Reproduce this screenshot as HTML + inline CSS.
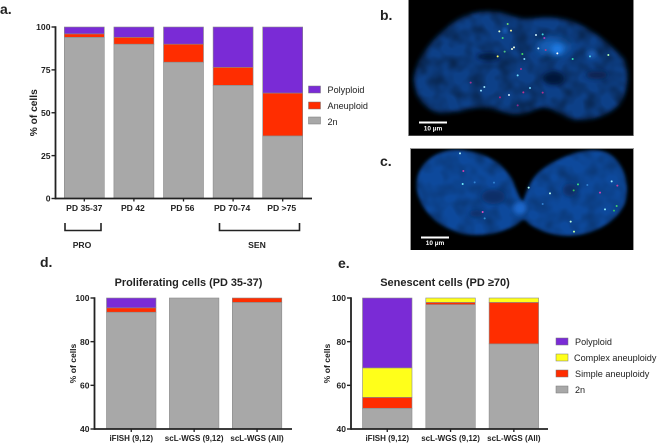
<!DOCTYPE html>
<html>
<head>
<meta charset="utf-8">
<style>
html,body{margin:0;padding:0;background:#fff;width:658px;height:443px;overflow:hidden}
svg{display:block;font-family:"Liberation Sans",sans-serif;filter:blur(.3px)}
text{fill:#222}
.b{font-weight:bold}
</style>
</head>
<body>
<svg id="fig" width="658" height="443" viewBox="0 0 658 443" xmlns="http://www.w3.org/2000/svg">
<defs>
<filter id="blurA" x="-20%" y="-20%" width="140%" height="140%"><feGaussianBlur stdDeviation="5"/></filter>
<filter id="blurB" x="-50%" y="-50%" width="200%" height="200%"><feGaussianBlur stdDeviation="7"/></filter>
<filter id="blurS" x="-50%" y="-50%" width="200%" height="200%"><feGaussianBlur stdDeviation="12"/></filter>
<filter id="mottle" x="0" y="0" width="100%" height="100%">
<feTurbulence type="fractalNoise" baseFrequency="0.07" numOctaves="2" seed="7"/>
<feGaussianBlur stdDeviation="1.2"/>
<feColorMatrix type="matrix" values="0 0 0 0 0  0 0 0 0 0  0 0 0 0 0  2 0 0 0 -0.75"/>
</filter>
<filter id="dotBlur" x="-100%" y="-100%" width="300%" height="300%"><feGaussianBlur stdDeviation="0.5"/></filter>
<clipPath id="clipB"><rect x="408" y="0" width="226" height="136"/></clipPath>
<clipPath id="clipC"><rect x="410" y="148" width="224" height="102"/></clipPath>
</defs>

<text class="b" x="0" y="14" font-size="14">a.</text>
<text class="b" x="380" y="20" font-size="14">b.</text>
<text class="b" x="380" y="166" font-size="14">c.</text>
<text class="b" x="40" y="267" font-size="14">d.</text>
<text class="b" x="338" y="268" font-size="14">e.</text>

<g id="chartA"></g>
<g id="chartD"></g>
<g id="chartE"></g>

<g fill="none" stroke="#222" stroke-width="1.6">
<path d="M65 223V230.5H101V223"/>
</g>
<text class="b" x="82" y="248" font-size="8.6" text-anchor="middle">PRO</text>
<g fill="none" stroke="#222" stroke-width="1.6">
<path d="M219.5 223V230.5H299.5V223"/>
</g>
<text class="b" x="257" y="248" font-size="8.6" text-anchor="middle">SEN</text>

<g font-size="9.1">
<rect x="308.5" y="86" width="12" height="7" fill="#7a2bd6" stroke="#777" stroke-width=".5"/>
<text x="327.5" y="93">Polyploid</text>
<rect x="308.5" y="102" width="12" height="7" fill="#ff2d00" stroke="#777" stroke-width=".5"/>
<text x="327.5" y="109">Aneuploid</text>
<rect x="308.5" y="117" width="12" height="7" fill="#a8a8a8" stroke="#777" stroke-width=".5"/>
<text x="327.5" y="125">2n</text>
</g>

<g font-size="9.1">
<rect x="556" y="338" width="12" height="7" fill="#7a2bd6" stroke="#777" stroke-width=".5"/>
<text x="575" y="345">Polyploid</text>
<rect x="556" y="354" width="12" height="7" fill="#ffff1a" stroke="#777" stroke-width=".5"/>
<text x="574" y="361">Complex aneuploidy</text>
<rect x="556" y="370" width="12" height="7" fill="#ff2d00" stroke="#777" stroke-width=".5"/>
<text x="575" y="377">Simple aneuploidy</text>
<rect x="556" y="386" width="12" height="7" fill="#a8a8a8" stroke="#777" stroke-width=".5"/>
<text x="575" y="393">2n</text>
</g>

<!-- micrograph b -->
<g clip-path="url(#clipB)">
<rect x="408" y="0" width="226" height="136" fill="#000"/>
<g transform="translate(340,0) scale(.33333)">
<path filter="url(#blurB)" fill="#0f4088" d="M222 240C225 190 262 130 320 85C360 45 420 25 490 40C520 50 550 60 580 55C620 50 680 50 730 80C770 100 810 135 850 175C870 215 865 270 840 310C810 345 750 365 700 358C670 352 650 325 610 322C580 325 560 345 520 342C480 335 450 320 410 322C370 330 320 345 285 335C245 315 225 285 222 240Z"/>
</g>
<rect x="408" y="0" width="226" height="136" fill="#000" opacity=".45" filter="url(#mottle)" style="mix-blend-mode:multiply"/>
<g transform="translate(340,0) scale(.33333)">
<ellipse cx="445" cy="170" rx="35" ry="10" fill="#04173a" filter="url(#blurB)"/>
<ellipse cx="640" cy="235" rx="32" ry="20" fill="#04173a" filter="url(#blurB)"/>
<ellipse cx="770" cy="225" rx="32" ry="12" fill="#082450" filter="url(#blurB)"/>
<ellipse cx="640" cy="140" rx="50" ry="24" fill="#1660b8" filter="url(#blurS)"/>
<ellipse cx="652" cy="148" rx="18" ry="16" fill="#1c78e0" filter="url(#blurB)"/>
<ellipse cx="755" cy="162" rx="14" ry="12" fill="#1a5fb8" filter="url(#blurB)"/>
<ellipse cx="495" cy="92" rx="7" ry="7" fill="#1a66c8" filter="url(#blurA)"/>
</g>
<g id="dotsB" transform="translate(340,0) scale(.33333)" filter="url(#dotBlur)"></g>
<rect x="419" y="121.5" width="28" height="2" fill="#fff"/>
<text x="433" y="130.5" font-size="6.5" font-weight="bold" text-anchor="middle" style="fill:#fff">10 µm</text>
<rect x="408.5" y="-1" width="225" height="137" fill="none" stroke="#888" stroke-width="1"/>
</g>

<!-- micrograph c -->
<g clip-path="url(#clipC)">
<rect x="410" y="148" width="224" height="102" fill="#000"/>
<g transform="translate(340,125) scale(.33333)">
<path filter="url(#blurA)" fill="#114a9c" d="M230 170C235 110 295 70 360 75C430 80 490 110 520 170C530 200 540 220 548 232C555 215 560 190 580 160C610 120 660 100 700 85C750 70 800 70 830 105C860 140 868 190 855 235C830 290 770 325 700 332C650 335 600 320 565 295C555 280 545 285 535 295C490 325 430 335 380 328C300 315 225 250 230 170Z"/>
</g>
<rect x="410" y="148" width="224" height="102" fill="#000" opacity=".3" filter="url(#mottle)" style="mix-blend-mode:multiply"/>
<g transform="translate(340,125) scale(.33333)">
<ellipse cx="460" cy="215" rx="35" ry="22" fill="#0a2f68" filter="url(#blurB)"/>
<ellipse cx="410" cy="265" rx="22" ry="10" fill="#0a2f68" filter="url(#blurB)"/>
<ellipse cx="690" cy="195" rx="22" ry="20" fill="#0a2f68" filter="url(#blurB)"/>
<ellipse cx="540" cy="250" rx="20" ry="20" fill="#1a68cc" filter="url(#blurB)"/>
</g>
<g id="dotsC" transform="translate(340,125) scale(.33333)" filter="url(#dotBlur)"></g>
<rect x="421" y="236.5" width="28" height="2" fill="#fff"/>
<text x="435" y="245" font-size="6.5" font-weight="bold" text-anchor="middle" style="fill:#fff">10 µm</text>
<rect x="410.5" y="148.5" width="223" height="102" fill="none" stroke="#999" stroke-width="1"/>
</g>

<text class="b" x="188.5" y="286" font-size="10.9" text-anchor="middle">Proliferating cells (PD 35-37)</text>
<text class="b" x="445" y="286" font-size="11" text-anchor="middle">Senescent cells (PD ≥70)</text>
</svg>

<script>
var COLORS = {n2:'#a8a8a8', simple:'#ff2d00', complex:'#ffff1a', poly:'#7a2bd6'};

var categoriesA = ['PD 35-37','PD 42','PD 56','PD 70-74','PD >75'];
var twoNA = [94, 90, 79.5, 66, 36.5];
var aneuploidA = [2, 4, 10.5, 10.5, 25];
var polyploidA = [4, 6, 10, 23.5, 38.5];
var ticksA = [0, 25, 50, 75, 100];

var categoriesD = ['iFISH (9,12)','scL-WGS (9,12)','scL-WGS (All)'];
var twoND = [93.5, 100, 98];
var simpleD = [2, 0, 2];
var polyploidD = [4.5, 0, 0];
var ticksD = [40, 60, 80, 100];

var categoriesE = ['iFISH (9,12)','scL-WGS (9,12)','scL-WGS (All)'];
var twoNE = [49.5, 97, 79];
var simpleE = [5, 1, 19];
var complexE = [13.5, 2, 2];
var polyploidE = [32, 0, 0];
var ticksE = [40, 60, 80, 100];

var NS = 'http://www.w3.org/2000/svg';
function mk(parent, tag, attrs, txt) {
  var el = document.createElementNS(NS, tag);
  for (var k in attrs) el.setAttribute(k, attrs[k]);
  if (txt !== undefined) el.textContent = txt;
  parent.appendChild(el);
  return el;
}

function stacked(cfg) {
  var g = document.getElementById(cfg.id);
  var min = cfg.ticks[0], max = cfg.ticks[cfg.ticks.length - 1];
  function y(v) { return cfg.y0 + (Math.max(v, min) - min) / (max - min) * (cfg.y1 - cfg.y0); }
  function x(i) { return cfg.xStart + i * cfg.step; }

  cfg.cats.forEach(function (cat, i) {
    var acc = 0;
    cfg.series.forEach(function (s) {
      var v = s.values[i];
      if (v <= 0) return;
      var top = y(acc + v), bot = y(acc);
      var r = mk(g, 'rect', {x: x(i), y: top, width: cfg.barW, height: Math.max(bot - top, 0), fill: s.color, stroke: '#8a8a8a', 'stroke-width': 0.6});
      
      
      acc += v;
    });
    var cx = x(i) + cfg.barW / 2;
    var tk = mk(g, 'line', {x1: cx, x2: cx, y1: cfg.y0, y2: cfg.y0 + 3, stroke: '#222', 'stroke-width': 1.3});
    
    
    var lbl = mk(g, 'text', {x: cx + cfg.labelDx[i], y: cfg.y0 + cfg.labelDy, 'font-size': cfg.xFont, 'font-weight': 'bold', 'text-anchor': 'middle'}, cat);
    
    
  });

  cfg.ticks.forEach(function (t) {
    var yy = y(t);
    var tk = mk(g, 'line', {x1: cfg.axisX - 4, x2: cfg.axisX, y1: yy, y2: yy, stroke: '#222', 'stroke-width': 1.4});
    
    
    var lbl = mk(g, 'text', {x: cfg.axisX - 5, y: yy + 3.2, 'font-size': cfg.yFont, 'font-weight': 'bold', 'text-anchor': 'end'}, t);
    
    
  });

  var ya = mk(g, 'line', {x1: cfg.axisX, x2: cfg.axisX, y1: cfg.y1 - 0.7, y2: cfg.y0 + 0.9, stroke: '#222', 'stroke-width': 1.8});
  
  
  var xa = mk(g, 'line', {x1: cfg.axisX, x2: cfg.axisEnd, y1: cfg.y0, y2: cfg.y0, stroke: '#222', 'stroke-width': 1.8});
  
  

  var cy = (cfg.y0 + cfg.y1) / 2;
  var yt = mk(g, 'text', {x: cfg.yTitleX, y: cy, 'font-size': cfg.yTitleFont, 'font-weight': 'bold', 'text-anchor': 'middle', transform: 'rotate(-90 ' + cfg.yTitleX + ' ' + cy + ')'}, '% of cells');
  
  
}

stacked({id: 'chartA', cats: categoriesA, ticks: ticksA,
  series: [{name: '2n', values: twoNA, color: COLORS.n2},
           {name: 'aneuploid', values: aneuploidA, color: COLORS.simple},
           {name: 'polyploid', values: polyploidA, color: COLORS.poly}],
  y0: 198.5, y1: 27, xStart: 64.3, step: 49.6, barW: 40, axisX: 55.5, axisEnd: 312,
  labelDy: 12.5, labelDx: [0, -1, -1, -1, -1], xFont: 8.6, yFont: 8.6, yTitleX: 37, yTitleFont: 10.2});

stacked({id: 'chartD', cats: categoriesD, ticks: ticksD,
  series: [{name: '2n', values: twoND, color: COLORS.n2},
           {name: 'simple-aneuploidy', values: simpleD, color: COLORS.simple},
           {name: 'polyploid', values: polyploidD, color: COLORS.poly}],
  y0: 429, y1: 298, xStart: 106.5, step: 62.9, barW: 49.5, axisX: 94.5, axisEnd: 292,
  labelDy: 12, labelDx: [0, 0, 0], xFont: 8, yFont: 8.5, yTitleX: 76, yTitleFont: 8.6});

stacked({id: 'chartE', cats: categoriesE, ticks: ticksE,
  series: [{name: '2n', values: twoNE, color: COLORS.n2},
           {name: 'simple-aneuploidy', values: simpleE, color: COLORS.simple},
           {name: 'complex-aneuploidy', values: complexE, color: COLORS.complex},
           {name: 'polyploid', values: polyploidE, color: COLORS.poly}],
  y0: 429, y1: 298, xStart: 362.5, step: 63.3, barW: 49.5, axisX: 351, axisEnd: 548,
  labelDy: 12, labelDx: [0, 0, 0], xFont: 8, yFont: 8.5, yTitleX: 330, yTitleFont: 8.6});

var spotsB = [[503,72,'#6fdc6f'],[478,94,'#e0ffd0'],[513,92,'#eeee99'],[488,114,'#3fdc80'],[588,105,'#d0f4ff'],[608,103,'#40d8e0'],[613,114,'#b040c0'],[595,145,'#c0f0ff'],[652,160,'#ffffff'],[617,150,'#a04090'],[698,177,'#30e0b0'],[750,169,'#50d0f0'],[805,165,'#b0ffb0'],[473,169,'#ffff60'],[494,155,'#50c080'],[516,147,'#f0ffe0'],[522,142,'#f0ffe0'],[547,162,'#40e060'],[553,177,'#80d8ff'],[543,207,'#b03090'],[533,226,'#70e0ff'],[392,248,'#a03090'],[433,261,'#a0e8ff'],[423,272,'#90e0ff'],[480,292,'#b02080'],[507,285,'#d0f0ff'],[550,277,'#c03090'],[570,264,'#70d8ff'],[608,278,'#b03090'],[533,316,'#8a2a90']];
var spotsC = [[360,85,'#b0f4ff'],[370,138,'#d040b0'],[368,177,'#70f0ff'],[404,172,'#3080d0'],[462,173,'#3080d0'],[428,261,'#e050c0'],[434,280,'#3090d0'],[566,188,'#b0fff0'],[630,205,'#c0fff0'],[714,178,'#40e080'],[701,196,'#30c060'],[742,180,'#3080d0'],[815,169,'#a0f0ff'],[832,182,'#c040a0'],[780,203,'#d040b0'],[795,253,'#90f0ff'],[830,243,'#40d070'],[822,257,'#30c060'],[692,290,'#c0ffe0'],[702,320,'#c0ffa0'],[608,237,'#3080d0']];
function drawSpots(id, list) {
  var g = document.getElementById(id);
  list.forEach(function (p) {
    var c = mk(g, 'circle', {cx: p[0], cy: p[1], r: 3, fill: p[2]});
    
    
  });
}
drawSpots('dotsB', spotsB);
drawSpots('dotsC', spotsC);
</script>
</body>
</html>
